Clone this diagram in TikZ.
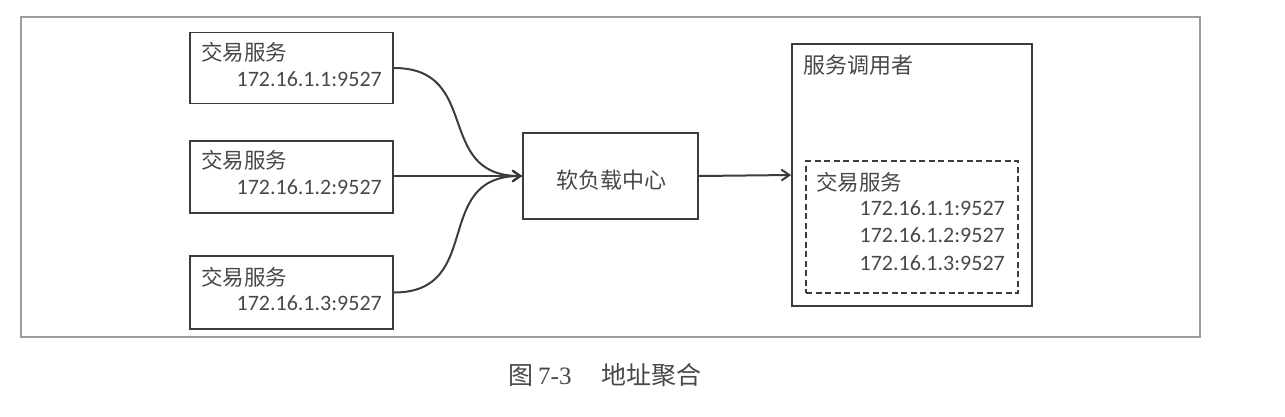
\documentclass[tikz,border=0pt]{standalone}
\usepackage{fontspec}
\setmainfont{Carlito}
\newfontfamily\cjk{Noto Sans CJK SC}
\newfontfamily\capserif{Liberation Serif}
\usetikzlibrary{arrows.meta}
\definecolor{boxc}{HTML}{3C3C3C}
\definecolor{txtc}{HTML}{484848}
\definecolor{framec}{HTML}{9C9C9C}
\begin{document}
\begin{tikzpicture}[x=1pt,y=-1pt,
  box/.style={draw=boxc, line width=1.8pt, rectangle, inner sep=0pt},
  dbox/.style={draw=boxc, line width=1.8pt, dashed, dash pattern=on 6pt off 3.5pt, rectangle, inner sep=0pt},
  title/.style={anchor=west, inner sep=0pt, text=txtc, font=\cjk\fontsize{21.5}{24}\selectfont},
  addr/.style={anchor=east, inner sep=0pt, text=txtc, font=\fontsize{22}{24}\selectfont},
  conn/.style={draw=boxc, line width=2pt, -{Straight Barb[length=8pt,width=11pt,line width=2pt]}}
]
\useasboundingbox (0,0) rectangle (1285,416);
\node[draw=framec, line width=1.3pt, minimum width=1179pt, minimum height=320pt, inner sep=0pt] (frame) at (610.5,177) {};

% service boxes
\node[box, minimum width=203pt, minimum height=71pt] (b1) at (291.5,68) {};
\node[box, minimum width=203pt, minimum height=72pt] (b2) at (291.5,177) {};
\node[box, minimum width=203pt, minimum height=73pt] (b3) at (291.5,292.5) {};
\node[title] (t1) at (201,52) {交易服务};
\node[addr] (a1) at (382,79) {172.16.1.1:9527};
\node[title] (t2) at (201,160) {交易服务};
\node[addr] (a2) at (382,187) {172.16.1.2:9527};
\node[title] (t3) at (201,277) {交易服务};
\node[addr] (a3) at (382,303) {172.16.1.3:9527};

% hub
\node[box, minimum width=175pt, minimum height=86pt] (hub) at (610.5,176) {};
\node[inner sep=0pt, text=txtc, font=\cjk\fontsize{22}{24}\selectfont] (hubt) at (611,180) {软负载中心};

% caller
\node[box, minimum width=240pt, minimum height=262pt] (caller) at (912,175) {};
\node[title, font=\cjk\fontsize{22}{24}\selectfont] (ct) at (803,65) {服务调用者};
\node[dbox, minimum width=212pt, minimum height=132pt] (cache) at (912,227) {};
\node[title] (dt) at (816,182) {交易服务};
\node[addr] (d1) at (1005,208) {172.16.1.1:9527};
\node[addr] (d2) at (1005,235) {172.16.1.2:9527};
\node[addr] (d3) at (1005,263) {172.16.1.3:9527};

% connectors
\draw[conn] (b1.east) to[out=0,in=180,looseness=1.35] (hub.west);
\draw[conn] (b2.east |- hub.west) -- (hub.west);
\draw[conn] (b3.east) to[out=0,in=180,looseness=1.35] (hub.west);
\draw[conn] (hub.east) -- (caller.west);

% caption
\node[anchor=west, inner sep=0pt, text=txtc, font=\fontsize{25}{28}\selectfont] (cap) at (508,375) {{\cjk 图}\hspace{5pt}{\capserif 7-3}\hspace{30pt}{\cjk 地址聚合}};
\end{tikzpicture}
\end{document}
